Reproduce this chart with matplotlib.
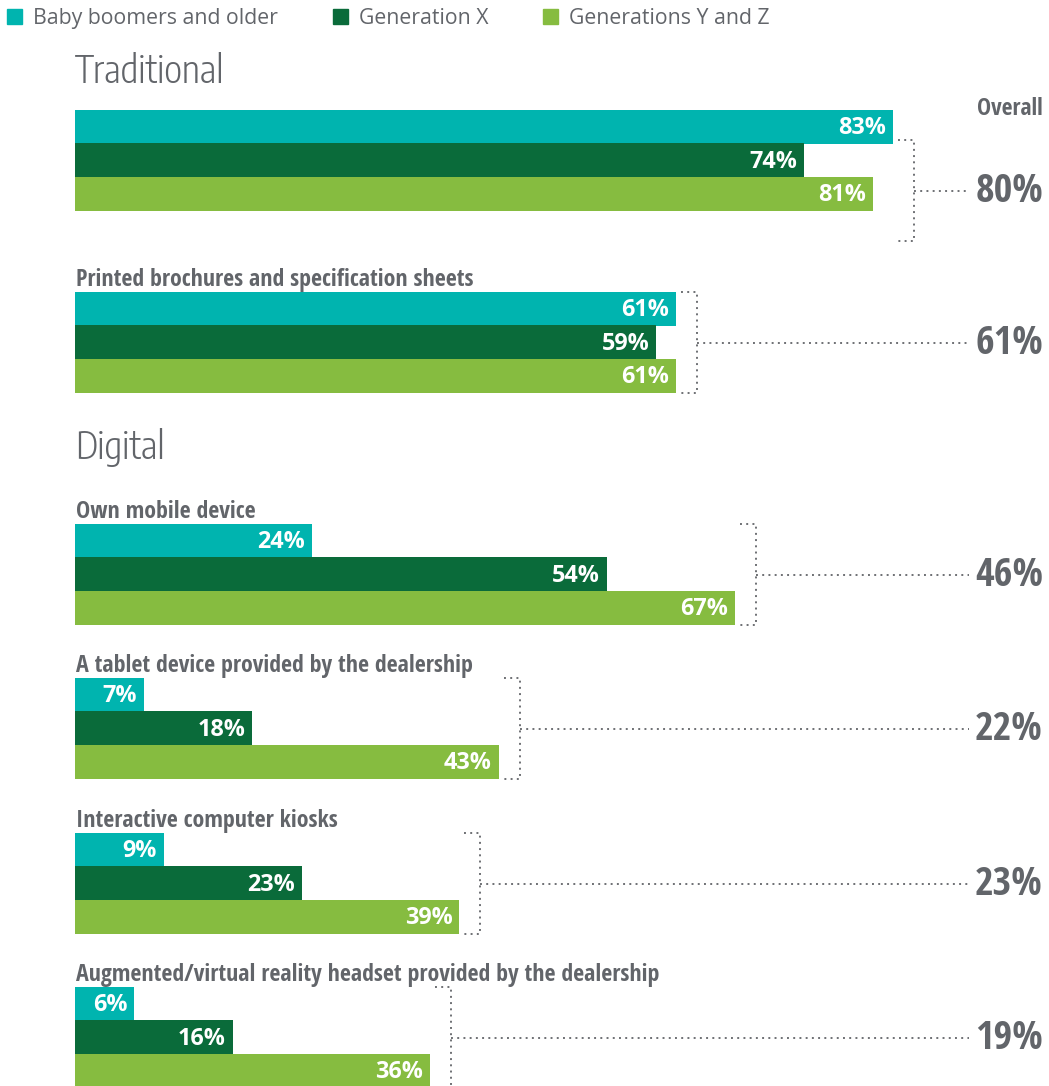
import matplotlib.pyplot as plt
from matplotlib.patches import Patch
from matplotlib import font_manager as fm

# Data
categories = ["", "Printed brochures and specification sheets", "Own mobile device",
              "A tablet device provided by the dealership", "Interactive computer kiosks",
              "Augmented/virtual reality headset provided by the dealership"]
boomers = [83, 61, 24, 7, 9, 6]
gen_x = [74, 59, 54, 18, 23, 16]
gen_yz = [81, 61, 67, 43, 39, 36]
overall = [80, 61, 46, 22, 23, 19]
series_names = ["Baby boomers and older", "Generation X", "Generations Y and Z"]

colors = ["#00B4AF", "#0A6B3A", "#86BC40"]
gray = "#62656A"
dots = "#6E7074"

fonts = {(f.name, int(f.weight) if str(f.weight).isdigit() else 400) for f in fm.fontManager.ttflist}
names = {n for n, _ in fonts}
cond = "Open Sans Condensed" if "Open Sans Condensed" in names else "DejaVu Sans"
light = next(((n, w) for n, w in [("Open Sans Condensed", 300), ("Encode Sans Condensed", 300),
                                   ("Fira Sans Condensed", 300), ("Barlow Condensed", 300)]
              if (n, w) in fonts), (cond, 400))
plt.rcParams['font.family'] = ['Open Sans', 'DejaVu Sans']
cfam = [cond, 'DejaVu Sans']

W, H = 1049, 1086
fig = plt.figure(figsize=(W / 100, H / 100), dpi=100)
ax = fig.add_axes([0, 0, 1, 1])
px = 9.855          # pixels per percentage point
x0 = 75             # pixel of 0 %
ax.set_xlim(-x0 / px, (W - x0) / px)
ax.set_ylim(H, 0)
ax.axis("off")

group_tops = [110, 292, 524, 678, 833, 987]
bar_h = 33.7
bracket_shift = [30, 0, 0, 0, 0, 0]
line_end = (969 - x0) / px
right_x = (1043 - x0) / px

for g, top in enumerate(group_tops):
    vals = [boomers[g], gen_x[g], gen_yz[g]]
    ys = [top + bar_h * (i + 0.5) for i in range(3)]
    ax.barh(ys, vals, height=bar_h + 0.6, color=colors, left=0)
    for y, v in zip(ys, vals):
        ax.text(v - 7 / px, y + 1, f"{v}%", ha="right", va="center", color="white",
                fontsize=16.8, fontweight="bold")
    if categories[g]:
        ax.text(0.1, top - 6, categories[g], ha="left", va="baseline", color=gray,
                fontsize=17.2, fontweight="bold", family=cfam)
    # bracket
    bx = max(vals) + 21 / px
    b_top = top + bracket_shift[g]
    b_bot = top + 3 * bar_h + bracket_shift[g]
    mid = (b_top + b_bot) / 2
    ls = (0, (1, 2.2))
    ax.plot([bx - 16 / px, bx, bx, bx - 16 / px], [b_top, b_top, b_bot, b_bot],
            color=dots, lw=1.4, ls=ls)
    ax.plot([bx, line_end], [mid, mid], color=dots, lw=1.4, ls=ls)
    ax.text(right_x, mid + 1, f"{overall[g]}%", ha="right", va="center", color=gray,
            fontsize=29, fontweight="bold", family=cfam)

ax.text(right_x, 109, "Overall", ha="right", va="center", color=gray,
        fontsize=17, fontweight="bold", family=cfam)

# Section titles
ax.text(0, 83, "Traditional", ha="left", va="baseline", color=gray, fontsize=27,
        fontweight=light[1], family=[light[0], 'DejaVu Sans'])
ax.text(0, 459, "Digital", ha="left", va="baseline", color=gray, fontsize=27,
        fontweight=light[1], family=[light[0], 'DejaVu Sans'])

# Legend
handles = [Patch(color=c, label=n) for c, n in zip(colors, series_names)]
fig.legend(handles=handles, loc="upper left", bbox_to_anchor=(0.003, 0.997), ncol=3,
           frameon=False, fontsize=15.3, handlelength=0.7, handleheight=0.7,
           handletextpad=0.5, columnspacing=2.6, borderaxespad=0.1,
           labelcolor=gray, borderpad=0.1)

fig.savefig("out.png", dpi=100)
